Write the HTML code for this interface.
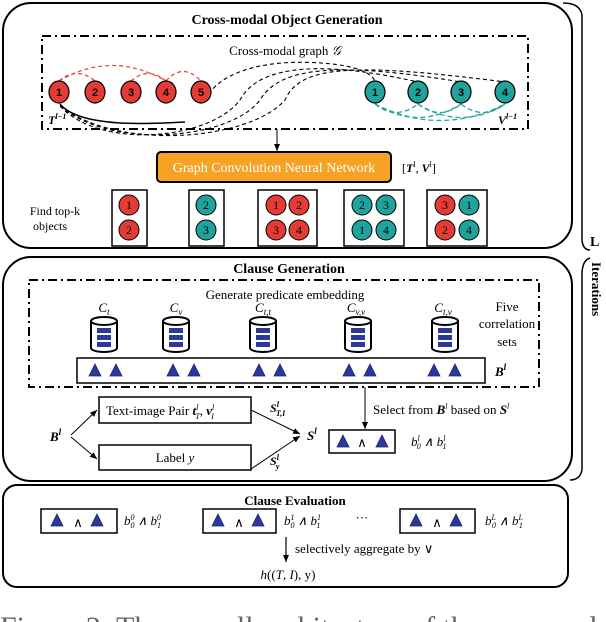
<!DOCTYPE html>
<html><head><meta charset="utf-8"><style>
body{margin:0;background:#fff;width:606px;height:622px;overflow:hidden}
svg{display:block}
text{font-family:"Liberation Serif",serif;fill:#000}
.b{font-weight:bold}
.i{font-style:italic}
</style></head><body>
<svg width="606" height="622" viewBox="0 0 606 622" xmlns="http://www.w3.org/2000/svg">
<defs>
<marker id="ar" markerWidth="8" markerHeight="8" refX="7" refY="4" orient="auto" markerUnits="userSpaceOnUse"><path d="M0,1 L7,4 L0,7 Z" fill="#000"/></marker>
<g id="tri"><path d="M0,12 L6,0 L12,12 Z" fill="#2b3a9a" stroke="#1a2370" stroke-width="0.8"/></g>
<g id="cyl">
<path d="M-13,4 L-13,31 A13,4 0 0 0 13,31 L13,4" fill="#fff" stroke="#000" stroke-width="2"/>
<ellipse cx="0" cy="4" rx="13" ry="4" fill="#fff" stroke="#000" stroke-width="2"/>
<rect x="-7" y="11" width="14" height="5" fill="#2b3a9a"/>
<rect x="-7" y="18" width="14" height="5" fill="#2b3a9a"/>
<rect x="-7" y="25" width="14" height="5" fill="#2b3a9a"/>
</g>
</defs>

<!-- Top box -->
<rect x="3" y="3" width="569" height="245" rx="28" fill="none" stroke="#000" stroke-width="2"/>
<text x="287" y="24" font-size="14" class="b" text-anchor="middle">Cross-modal Object Generation</text>
<rect x="42" y="36" width="486" height="93" fill="none" stroke="#000" stroke-width="2" stroke-dasharray="9,4,2,4"/>
<text x="285" y="55" font-size="13" text-anchor="middle">Cross-modal graph <tspan class="i">𝒢</tspan></text>
<g fill="none" stroke="#e0403a" stroke-width="1.2" stroke-dasharray="4,3">
<path d="M59,81 Q112,50 166,81"/><path d="M59,81 Q77,66 95,81"/><path d="M131,81 Q148,66 166,81"/><path d="M166,81 Q183,62 201,81"/>
</g>
<g fill="none" stroke="#000" stroke-width="1.1" stroke-dasharray="4,3">
<path d="M205,100 C225,60 300,58 346,66 C365,70 374,76 375,82"/>
<path d="M60,106 C100,150 210,140 240,100 C260,62 330,62 418,82"/>
<path d="M60,106 C110,150 230,140 260,100 C280,66 340,62 461,82"/>
<path d="M60,106 C120,152 250,140 285,100 C300,66 350,62 505,82"/>
</g>
<path d="M60,104 C80,128 150,124 185,122" fill="none" stroke="#000" stroke-width="1.5"/>
<g fill="none" stroke="#26a6a0" stroke-width="1.3" stroke-dasharray="5,3">
<path d="M375,104 Q396,121 418,104"/><path d="M418,104 Q440,121 461,104"/><path d="M461,104 Q483,121 505,104"/>
<path d="M375,104 Q418,131 461,104"/><path d="M418,104 Q461,131 505,104"/><path d="M375,104 Q440,137 505,104"/>
</g>
<g stroke="#000" stroke-width="1.2">
<ellipse cx="59" cy="92" rx="10" ry="11" fill="#e53b35"/><ellipse cx="95" cy="92" rx="10" ry="11" fill="#e53b35"/><ellipse cx="131" cy="92" rx="10" ry="11" fill="#e53b35"/><ellipse cx="166" cy="92" rx="10" ry="11" fill="#e53b35"/><ellipse cx="201" cy="92" rx="10" ry="11" fill="#e53b35"/>
<ellipse cx="375" cy="92" rx="10" ry="11" fill="#1fa39c"/><ellipse cx="418" cy="92" rx="10" ry="11" fill="#1fa39c"/><ellipse cx="461" cy="92" rx="10" ry="11" fill="#1fa39c"/><ellipse cx="505" cy="92" rx="10" ry="11" fill="#1fa39c"/>
</g>
<g font-size="11" text-anchor="middle">
<text x="59" y="96" style="font-family:Liberation Sans;font-weight:bold">1</text><text x="95" y="96" style="font-family:Liberation Sans;font-weight:bold">2</text><text x="131" y="96" style="font-family:Liberation Sans;font-weight:bold">3</text><text x="166" y="96" style="font-family:Liberation Sans;font-weight:bold">4</text><text x="201" y="96" style="font-family:Liberation Sans;font-weight:bold">5</text>
<text x="375" y="96" style="font-family:Liberation Sans;font-weight:bold">1</text><text x="418" y="96" style="font-family:Liberation Sans;font-weight:bold">2</text><text x="461" y="96" style="font-family:Liberation Sans;font-weight:bold">3</text><text x="505" y="96" style="font-family:Liberation Sans;font-weight:bold">4</text>
</g>
<text x="48" y="124" font-size="12" class="b i">T<tspan font-size="8" dy="-5">l−1</tspan></text>
<text x="498" y="124" font-size="12" class="b i">V<tspan font-size="8" dy="-5">l−1</tspan></text>
<line x1="277" y1="129" x2="277" y2="151" stroke="#000" marker-end="url(#ar)"/>
<rect x="157" y="152" width="234" height="30" rx="4" fill="#f7a125" stroke="#000" stroke-width="2"/>
<text x="274" y="172" font-size="14" text-anchor="middle" style="fill:#fff">Graph Convolution Neural Network</text>
<text x="402" y="172" font-size="12">[<tspan class="b i">T</tspan><tspan font-size="8" dy="-5">l</tspan><tspan dy="5">, </tspan><tspan class="b i">V</tspan><tspan font-size="8" dy="-5">l</tspan><tspan dy="5">]</tspan></text>
<text x="55" y="215" font-size="12" text-anchor="middle">Find top-k</text>
<text x="50" y="230" font-size="12" text-anchor="middle">objects</text>
<g fill="none" stroke="#000" stroke-width="1.5">
<rect x="112" y="190" width="35" height="56"/><rect x="189" y="190" width="35" height="56"/><rect x="258" y="190" width="59" height="56"/><rect x="344" y="190" width="60" height="56"/><rect x="427" y="190" width="60" height="56"/>
</g>
<g stroke="#000" stroke-width="1">
<circle cx="129" cy="205" r="10" fill="#e53b35"/><circle cx="129" cy="230" r="10" fill="#e53b35"/>
<circle cx="206" cy="205" r="10" fill="#1fa39c"/><circle cx="206" cy="230" r="10" fill="#1fa39c"/>
<circle cx="276" cy="205" r="10" fill="#e53b35"/><circle cx="299" cy="205" r="10" fill="#e53b35"/><circle cx="276" cy="230" r="10" fill="#e53b35"/><circle cx="299" cy="230" r="10" fill="#e53b35"/>
<circle cx="362" cy="205" r="10" fill="#1fa39c"/><circle cx="386" cy="205" r="10" fill="#1fa39c"/><circle cx="362" cy="230" r="10" fill="#1fa39c"/><circle cx="386" cy="230" r="10" fill="#1fa39c"/>
<circle cx="445" cy="205" r="10" fill="#e53b35"/><circle cx="469" cy="205" r="10" fill="#1fa39c"/><circle cx="445" cy="230" r="10" fill="#e53b35"/><circle cx="469" cy="230" r="10" fill="#1fa39c"/>
</g>
<g font-size="12" text-anchor="middle">
<text x="129" y="209">1</text><text x="129" y="234">2</text>
<text x="206" y="209">2</text><text x="206" y="234">3</text>
<text x="276" y="209">1</text><text x="299" y="209">2</text><text x="276" y="234">3</text><text x="299" y="234">4</text>
<text x="362" y="209">2</text><text x="386" y="209">3</text><text x="362" y="234">1</text><text x="386" y="234">4</text>
<text x="445" y="209">3</text><text x="469" y="209">1</text><text x="445" y="234">2</text><text x="469" y="234">4</text>
</g>

<!-- right brackets -->
<path d="M563,3 Q580,3 582,15 L582,240 Q583,250 590,250" fill="none" stroke="#000" stroke-width="1.5"/>
<text x="590" y="246" font-size="14" class="b">L</text>
<path d="M590,258 Q583,260 582,272 L582,470 Q580,480 570,480" fill="none" stroke="#000" stroke-width="1.5"/>
<text transform="translate(592,262) rotate(90)" font-size="13" class="b">Iterations</text>

<!-- Middle box -->
<rect x="3" y="257" width="569" height="224" rx="28" fill="none" stroke="#000" stroke-width="2"/>
<text x="289" y="273" font-size="14" class="b" text-anchor="middle">Clause Generation</text>
<rect x="29" y="280" width="510" height="107" fill="none" stroke="#000" stroke-width="2" stroke-dasharray="9,4,2,4"/>
<text x="285" y="299" font-size="13" text-anchor="middle">Generate predicate embedding</text>
<g font-size="13" class="i" text-anchor="middle">
<text x="104" y="312">C<tspan font-size="9" dy="3">t</tspan></text>
<text x="176" y="312">C<tspan font-size="9" dy="3">v</tspan></text>
<text x="263" y="312">C<tspan font-size="9" dy="3">t,t</tspan></text>
<text x="356" y="312">C<tspan font-size="9" dy="3">v,v</tspan></text>
<text x="443" y="312">C<tspan font-size="9" dy="3">t,v</tspan></text>
</g>
<use href="#cyl" x="104" y="317"/><use href="#cyl" x="176" y="317"/><use href="#cyl" x="263" y="317"/><use href="#cyl" x="358" y="317"/><use href="#cyl" x="445" y="317"/>
<text x="507" y="311" font-size="13" text-anchor="middle">Five</text>
<text x="507" y="328" font-size="13" text-anchor="middle">correlation</text>
<text x="507" y="346" font-size="13" text-anchor="middle">sets</text>
<rect x="77" y="358" width="408" height="25" fill="none" stroke="#000" stroke-width="1.5"/>
<use href="#tri" x="89" y="364"/><use href="#tri" x="110" y="364"/>
<use href="#tri" x="167" y="364"/><use href="#tri" x="188" y="364"/>
<use href="#tri" x="253" y="364"/><use href="#tri" x="274" y="364"/>
<use href="#tri" x="343" y="364"/><use href="#tri" x="364" y="364"/>
<use href="#tri" x="428" y="364"/><use href="#tri" x="449" y="364"/>
<text x="495" y="376" font-size="13" class="b i">B<tspan font-size="9" dy="-6">l</tspan></text>

<rect x="99" y="397" width="152" height="26" fill="#fff" stroke="#000" stroke-width="1.5"/>
<text x="106" y="415" font-size="13">Text-image Pair <tspan class="b i">t</tspan><tspan font-size="8" dy="-5" class="i">l</tspan><tspan font-size="8" dy="9" dx="-3" class="i">T</tspan><tspan dy="-4">, </tspan><tspan class="b i">v</tspan><tspan font-size="8" dy="-5" class="i">l</tspan><tspan font-size="8" dy="9" dx="-3" class="i">I</tspan></text>
<rect x="99" y="445" width="152" height="25" fill="#fff" stroke="#000" stroke-width="1.5"/>
<text x="175" y="462" font-size="13" text-anchor="middle">Label <tspan class="i">y</tspan></text>
<text x="50" y="441" font-size="13" class="b i">B<tspan font-size="9" dy="-6">l</tspan></text>
<line x1="71" y1="435" x2="97" y2="410" stroke="#000" marker-end="url(#ar)"/>
<line x1="71" y1="437" x2="97" y2="459" stroke="#000" marker-end="url(#ar)"/>
<line x1="251" y1="410" x2="300" y2="434" stroke="#000" marker-end="url(#ar)"/>
<line x1="251" y1="469" x2="300" y2="436" stroke="#000" marker-end="url(#ar)"/>
<text x="270" y="412" font-size="12" class="b i">S<tspan font-size="8" dy="-5">l</tspan><tspan font-size="8" dy="9" dx="-3">T,I</tspan></text>
<text x="270" y="465" font-size="12" class="b i">S<tspan font-size="8" dy="-5">l</tspan><tspan font-size="8" dy="9" dx="-3">y</tspan></text>
<text x="307" y="440" font-size="13" class="b i">S<tspan font-size="9" dy="-6">l</tspan></text>
<line x1="365" y1="387" x2="365" y2="429" stroke="#000" marker-end="url(#ar)"/>
<text x="373" y="414" font-size="13">Select from <tspan class="b i">B</tspan><tspan font-size="8" dy="-5" class="i">l</tspan><tspan dy="5"> based on </tspan><tspan class="b i">S</tspan><tspan font-size="8" dy="-5" class="i">l</tspan></text>
<rect x="329" y="430" width="66" height="23" fill="#fff" stroke="#000" stroke-width="1.5"/>
<use href="#tri" x="337" y="435"/><text x="362" y="447" font-size="13" text-anchor="middle">∧</text><use href="#tri" x="376" y="435"/>
<text x="411" y="446" font-size="13" class="i">b<tspan font-size="8" dy="-5">l</tspan><tspan font-size="8" dy="8" dx="-3">0</tspan><tspan dy="-3"> ∧ b</tspan><tspan font-size="8" dy="-5">l</tspan><tspan font-size="8" dy="8" dx="-3">1</tspan></text>

<!-- Bottom box -->
<rect x="3" y="485" width="565" height="102" rx="14" fill="none" stroke="#000" stroke-width="2"/>
<text x="295" y="505" font-size="13" class="b" text-anchor="middle">Clause Evaluation</text>
<rect x="41" y="509" width="76" height="24" fill="none" stroke="#000" stroke-width="1.5"/>
<use href="#tri" x="51" y="514"/><text x="78" y="527" font-size="13" text-anchor="middle">∧</text><use href="#tri" x="91" y="514"/>
<text x="124" y="525" font-size="13" class="i">b<tspan font-size="8" dy="-5">0</tspan><tspan font-size="8" dy="8" dx="-4">0</tspan><tspan dy="-3"> ∧ b</tspan><tspan font-size="8" dy="-5">0</tspan><tspan font-size="8" dy="8" dx="-4">1</tspan></text>
<rect x="203" y="509" width="73" height="24" fill="none" stroke="#000" stroke-width="1.5"/>
<use href="#tri" x="212" y="514"/><text x="239" y="527" font-size="13" text-anchor="middle">∧</text><use href="#tri" x="252" y="514"/>
<text x="284" y="525" font-size="13" class="i">b<tspan font-size="8" dy="-5">1</tspan><tspan font-size="8" dy="8" dx="-4">0</tspan><tspan dy="-3"> ∧ b</tspan><tspan font-size="8" dy="-5">1</tspan><tspan font-size="8" dy="8" dx="-4">1</tspan></text>
<text x="362" y="522" font-size="13" text-anchor="middle">···</text>
<rect x="400" y="509" width="75" height="24" fill="none" stroke="#000" stroke-width="1.5"/>
<use href="#tri" x="410" y="514"/><text x="437" y="527" font-size="13" text-anchor="middle">∧</text><use href="#tri" x="450" y="514"/>
<text x="485" y="525" font-size="13" class="i">b<tspan font-size="8" dy="-5">L</tspan><tspan font-size="8" dy="8" dx="-4">0</tspan><tspan dy="-3"> ∧ b</tspan><tspan font-size="8" dy="-5">L</tspan><tspan font-size="8" dy="8" dx="-4">1</tspan></text>
<line x1="286" y1="537" x2="286" y2="562" stroke="#000" stroke-width="1.2" marker-end="url(#ar)"/>
<text x="295" y="553" font-size="13">selectively aggregate by ∨</text>
<text x="288" y="579" font-size="13" text-anchor="middle" class="i">h<tspan font-style="normal">((</tspan>T<tspan font-style="normal">, </tspan>I<tspan font-style="normal">), y)</tspan></text>

<text x="0" y="637" font-size="30" style="fill:#666">Figure 2:  The overall architecture of the proposed m</text>
</svg>
</body></html>
